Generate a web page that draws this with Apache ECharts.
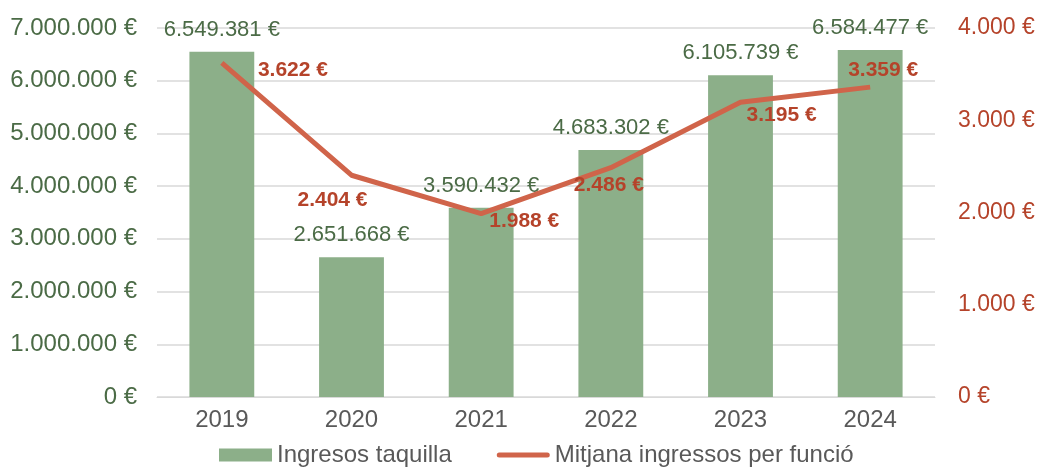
<!DOCTYPE html>
<html>
<head>
<meta charset="utf-8">
<script src="https://cdn.jsdelivr.net/npm/echarts@6/dist/echarts.min.js"></script>
<style>
  html, body { margin: 0; padding: 0; background: #fff; }
  #chart { width: 1039px; height: 467px; }
</style>
</head>
<body>
<div id="chart"></div>
<script>
var years = ['2019', '2020', '2021', '2022', '2023', '2024'];
var ingresosTaquilla = [6549381, 2651668, 3590432, 4683302, 6105739, 6584477];
var mitjanaPerFuncio = [3622, 2404, 1988, 2486, 3195, 3359];

// label placement for each point of the line (as in the original)
var lineLabelPos = [
    { position: 'right', distance: 36, offset: [0, 7] },
    { position: 'bottom', distance: 14, offset: [-19, 0] },
    { position: 'right', distance: 8, offset: [0, 8] },
    { position: 'bottom', distance: 7, offset: [-2, 0] },
    { position: 'right', distance: 6, offset: [0, 13] },
    { position: 'top', distance: 6, offset: [13, 0] }
];

function euro(v) {
    var s = String(Math.round(v)).replace(/\B(?=(\d{3})+(?!\d))/g, '.');
    return s + ' €';
}

var green = '#8caf89',
    greenText = '#4b6b46',
    red = '#d0644a',
    redText = '#b5432a',
    font = '"Liberation Sans", Arial, sans-serif';

var chart = echarts.init(document.getElementById('chart'));

chart.setOption({
    animation: false,
    textStyle: { fontFamily: font },
    grid: { left: 157, right: 104, top: 28, bottom: 70 },
    legend: {
        bottom: -5,
        left: 214,
        itemGap: 45,
        itemWidth: 53,
        itemHeight: 13,
        textStyle: { fontSize: 24, color: '#595959', fontFamily: font },
        data: [
            { name: 'Ingresos taquilla', icon: 'rect' },
            { name: 'Mitjana ingressos per funció', icon: 'path://M2.5,0 L50.5,0 A2.5,2.5 0 0 1 50.5,5 L2.5,5 A2.5,2.5 0 0 1 2.5,0 Z' }
        ]
    },
    xAxis: {
        type: 'category',
        data: years,
        axisTick: { show: false },
        axisLine: { lineStyle: { color: '#d9d9d9', width: 1 } },
        axisLabel: { fontSize: 24, color: '#595959', margin: 11 }
    },
    yAxis: [{
        type: 'value',
        min: 0,
        max: 7000000,
        interval: 1000000,
        axisLabel: { fontSize: 24, color: greenText, formatter: euro, margin: 20 },
        splitLine: { lineStyle: { color: '#d9d9d9', width: 1.5 } }
    }, {
        type: 'value',
        min: 0,
        max: 4000,
        interval: 1000,
        axisLabel: { fontSize: 23, color: redText, formatter: euro, margin: 23 },
        splitLine: { show: false }
    }],
    series: [{
        name: 'Ingresos taquilla',
        type: 'bar',
        data: ingresosTaquilla,
        barWidth: '50%',
        itemStyle: { color: green },
        label: {
            show: true,
            position: 'top',
            distance: 11,
            fontSize: 22,
            color: greenText,
            formatter: function(p) { return euro(p.value); }
        }
    }, {
        name: 'Mitjana ingressos per funció',
        type: 'line',
        yAxisIndex: 1,
        symbol: 'circle',
        symbolSize: 0.1,
        showSymbol: true,
        lineStyle: { color: red, width: 5 },
        itemStyle: { color: red },
        data: mitjanaPerFuncio.map(function(v, i) {
            return {
                value: v,
                label: lineLabelPos[i]
            };
        }),
        label: {
            show: true,
            fontSize: 21,
            fontWeight: 'bold',
            color: redText,
            formatter: function(p) { return euro(p.value); }
        }
    }]
});
</script>
</body>
</html>
